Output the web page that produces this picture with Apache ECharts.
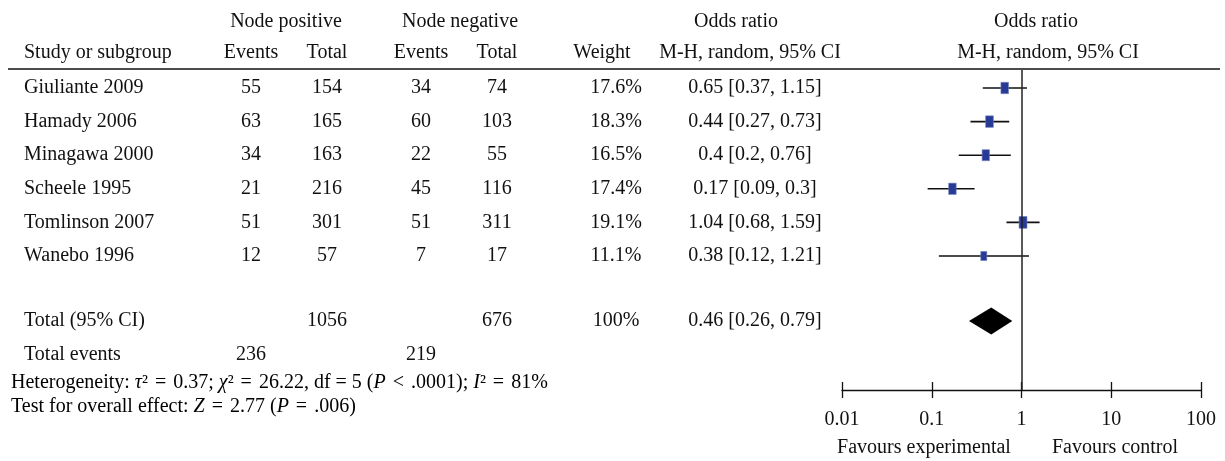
<!DOCTYPE html>
<html>
<head>
<meta charset="utf-8">
<script src="https://cdn.jsdelivr.net/npm/echarts@6/dist/echarts.min.js"></script>
<style>html,body{margin:0;padding:0;background:#fff}#c{width:1225px;height:461px}</style>
</head>
<body>
<div id="c"></div>
<script>
// ---- data ----
const studies = ['Giuliante 2009','Hamady 2006','Minagawa 2000','Scheele 1995','Tomlinson 2007','Wanebo 1996'];
const posEvents = [55,63,34,21,51,12];
const posTotal = [154,165,163,216,301,57];
const negEvents = [34,60,22,45,51,7];
const negTotal = [74,103,55,116,311,17];
const weights = [17.6,18.3,16.5,17.4,19.1,11.1];
const orValues = [0.65,0.44,0.4,0.17,1.04,0.38];
const ciLow = [0.37,0.27,0.2,0.09,0.68,0.12];
const ciHigh = [1.15,0.73,0.76,0.3,1.59,1.21];
const pooledOR = [0.46,0.26,0.79];           // estimate, low, high
const pooledTotals = [1056,676];
const pooledWeight = 100;
const totalEvents = [236,219];
const tickLabels = ['0.01','0.1','1','10','100'];

// ---- layout ----
const FONT = 'Liberation Serif';
const FS = 20;
const ROW_PX = 33.6, FIRST_Y = 88, TOP = 70, AXIS_Y = 390;
const yMin = (TOP - FIRST_Y) / ROW_PX, yMax = (AXIS_Y - FIRST_Y) / ROW_PX;
const TOTAL_ROW = (321 - FIRST_Y) / ROW_PX, EVENTS_ROW = (355 - FIRST_Y) / ROW_PX;
const COL = {name:24, posE:251, posT:327, negE:421, negT:497, w:616, or:755};

const cells = [];
studies.forEach((s,i)=>{
  cells.push([COL.name,i,s,'left']);
  cells.push([COL.posE,i,String(posEvents[i]),'center']);
  cells.push([COL.posT,i,String(posTotal[i]),'center']);
  cells.push([COL.negE,i,String(negEvents[i]),'center']);
  cells.push([COL.negT,i,String(negTotal[i]),'center']);
  cells.push([COL.w,i,weights[i].toFixed(1)+'%','center']);
  cells.push([COL.or,i,orValues[i]+' ['+ciLow[i]+', '+ciHigh[i]+']','center']);
});
cells.push([COL.name,TOTAL_ROW,'Total (95% CI)','left']);
cells.push([COL.posT,TOTAL_ROW,String(pooledTotals[0]),'center']);
cells.push([COL.negT,TOTAL_ROW,String(pooledTotals[1]),'center']);
cells.push([COL.w,TOTAL_ROW,pooledWeight+'%','center']);
cells.push([COL.or,TOTAL_ROW,pooledOR[0]+' ['+pooledOR[1]+', '+pooledOR[2]+']','center']);
cells.push([COL.name,EVENTS_ROW,'Total events','left']);
cells.push([COL.posE,EVENTS_ROW,String(totalEvents[0]),'center']);
cells.push([COL.negE,EVENTS_ROW,String(totalEvents[1]),'center']);

const forestData = studies.map((s,i)=>[orValues[i],ciLow[i],ciHigh[i],i,weights[i]]);

const chart = echarts.init(document.getElementById('c'), null, {renderer:'canvas'});
const txt = (x,y,t,align)=>({type:'text',x:x,y:y,style:{text:t,font:FS+'px "'+FONT+'"',fill:'#111',textAlign:align||'center',textVerticalAlign:'middle'}});

const richStyles = {
  n:{fontFamily:FONT,fontSize:FS,color:'#111'},
  i:{fontFamily:FONT,fontSize:FS,fontStyle:'italic',color:'#111'},
  e:{fontFamily:FONT,fontSize:FS,color:'#111',padding:[0,2]}
};

const option = {
  animation:false,
  backgroundColor:'#fff',
  grid:[
    {left:842, width:359, top:TOP, height:AXIS_Y-TOP},
    {left:0, width:1225, top:TOP, height:AXIS_Y-TOP}
  ],
  xAxis:[
    {type:'log', logBase:10, min:0.01, max:100, gridIndex:0, position:'bottom',
     axisLine:{onZero:false,lineStyle:{color:'#111',width:1.3}},
     axisTick:{show:true,length:8,lineStyle:{color:'#111',width:1.3}},
     axisLabel:{margin:20,color:'#111',fontFamily:FONT,fontSize:FS,
       formatter:(v)=>{const k=Math.round(Math.log10(v))+2;return tickLabels[k]!==undefined?tickLabels[k]:'';}},
     splitLine:{show:false}},
    {type:'log', logBase:10, min:0.01, max:100, gridIndex:0, position:'bottom',
     axisLine:{show:false,onZero:false},
     axisTick:{show:true,inside:true,length:8,lineStyle:{color:'#111',width:1.3}},
     axisLabel:{show:false}, splitLine:{show:false}},
    {type:'value', min:0, max:1225, gridIndex:1, show:false}
  ],
  yAxis:[
    {type:'value', inverse:true, min:yMin, max:yMax, gridIndex:0, show:false},
    {type:'value', inverse:true, min:yMin, max:yMax, gridIndex:1, show:false}
  ],
  series:[
    {
      type:'custom', xAxisIndex:2, yAxisIndex:1, silent:true,
      data:cells.map(c=>[c[0],c[1]]),
      renderItem:(params,api)=>{
        const c = cells[params.dataIndex];
        const p = api.coord([api.value(0),api.value(1)]);
        return txt(p[0],p[1],c[2],c[3]);
      }
    },
    {
      type:'custom', xAxisIndex:0, yAxisIndex:0, silent:true,
      data:forestData,
      renderItem:(params,api)=>{
        const y = api.value(3);
        const a = api.coord([api.value(1),y]);
        const b = api.coord([api.value(2),y]);
        const c = api.coord([api.value(0),y]);
        const w = api.value(4);
        const h = 2.7*Math.sqrt(w), ww = 1.8*Math.sqrt(w);
        return {type:'group',children:[
          {type:'line',shape:{x1:a[0],y1:a[1],x2:b[0],y2:b[1]},style:{stroke:'#111',lineWidth:1.6}},
          {type:'rect',shape:{x:c[0]-ww/2,y:c[1]-h/2,width:ww,height:h},style:{fill:'#263a96',stroke:'#6f7cbd',lineWidth:0.6}}
        ]};
      },
      markLine:{silent:true,symbol:'none',label:{show:false},
        lineStyle:{color:'#222',width:1.5,type:'solid'},
        data:[{xAxis:1}]}
    },
    {
      type:'custom', xAxisIndex:0, yAxisIndex:0, silent:true,
      data:[[pooledOR[0],pooledOR[1],pooledOR[2],TOTAL_ROW]],
      renderItem:(params,api)=>{
        const y = api.value(3);
        const c = api.coord([api.value(0),y]);
        const l = api.coord([api.value(1),y]);
        const r = api.coord([api.value(2),y]);
        const hh = 13.5;
        return {type:'polygon',shape:{points:[[l[0],c[1]],[c[0],c[1]-hh],[r[0],c[1]],[c[0],c[1]+hh]]},style:{fill:'#000'}};
      }
    }
  ],
  graphic:[
    txt(286,22,'Node positive'),
    txt(460,22,'Node negative'),
    txt(736,22,'Odds ratio'),
    txt(1036,22,'Odds ratio'),
    txt(24,53,'Study or subgroup','left'),
    txt(COL.posE,53,'Events'),
    txt(COL.posT,53,'Total'),
    txt(COL.negE,53,'Events'),
    txt(COL.negT,53,'Total'),
    txt(602,53,'Weight'),
    txt(750,53,'M-H, random, 95% CI'),
    txt(1048,53,'M-H, random, 95% CI'),
    {type:'line',shape:{x1:8,y1:TOP-1,x2:1220,y2:TOP-1},style:{stroke:'#111',lineWidth:1.6}},
    {type:'text',x:11,y:383,style:{
      text:'{n|Heterogeneity: }{i|τ}{n|² }{e|=}{n| 0.37; }{i|χ}{n|² }{e|=}{n| 26.22, df = 5 (}{i|P}{n| }{e|<}{n| .0001); }{i|I}{n|² }{e|=}{n| 81%}',
      rich:richStyles, textVerticalAlign:'middle', font:FS+'px "'+FONT+'"'}},
    {type:'text',x:11,y:407,style:{
      text:'{n|Test for overall effect: }{i|Z}{n| }{e|=}{n| 2.77 (}{i|P}{n| }{e|=}{n| .006)}',
      rich:richStyles, textVerticalAlign:'middle', font:FS+'px "'+FONT+'"'}},
    txt(924,448,'Favours experimental'),
    txt(1115,448,'Favours control')
  ]
};
chart.setOption(option);
</script>
</body>
</html>
